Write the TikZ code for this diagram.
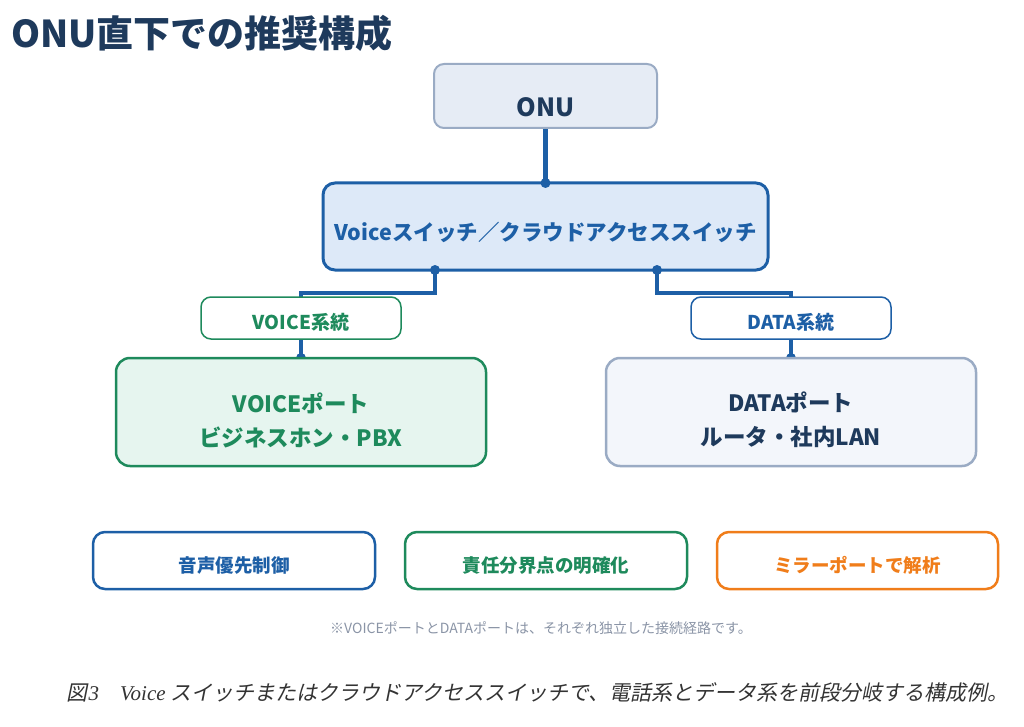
\documentclass[tikz,border=0pt]{standalone}
\usepackage{fontspec}
\setmainfont{Noto Sans CJK JP}
\newfontfamily\capfont{Noto Sans CJK JP}[FakeSlant=0.2]
\newfontfamily\capserif{Liberation Serif}
\usetikzlibrary{calc}
\definecolor{navy}{HTML}{1E3A5C}
\definecolor{cblue}{HTML}{1D5FA6}
\definecolor{cgreen}{HTML}{1E8A5C}
\definecolor{corange}{HTML}{F07D1A}
\definecolor{cgrayb}{HTML}{9AABC4}
\definecolor{onufill}{HTML}{E6ECF5}
\definecolor{swfill}{HTML}{DDE9F8}
\definecolor{vfill}{HTML}{E6F5EF}
\definecolor{dfill}{HTML}{F3F6FB}
\definecolor{notegray}{HTML}{8A94A6}
\definecolor{capgray}{HTML}{333333}
\pgfdeclarelayer{background}
\pgfsetlayers{background,main}
\tikzset{
  boxbase/.style={rectangle, inner sep=0pt, outer sep=0pt},
  txt/.style={inner sep=0pt, font=\bfseries, align=center},
  conn/.style={draw=cblue, line width=4.5pt},
  jdot/.style={fill=cblue},
}
\begin{document}
\begin{tikzpicture}[x=1pt,y=1pt]
\useasboundingbox (0,0) rectangle (1024,-727);
% title
\node[txt, anchor=base west, text=navy, font=\bfseries\fontsize{37}{40}\selectfont] (title) at (11,-48) {ONU直下での推奨構成};
% ONU
\node[boxbase, draw=cgrayb, fill=onufill, line width=2pt, rounded corners=10pt, minimum width=223pt, minimum height=64pt] (onu) at (545.5,-96) {};
\node[txt, text=navy, font=\bfseries\fontsize{25}{28}\selectfont] (onut) at ([yshift=-11.5pt]onu.center) {ONU};
% switch
\node[boxbase, draw=cblue, fill=swfill, line width=3pt, rounded corners=12pt, minimum width=445pt, minimum height=87pt] (sw) at (545.5,-226.5) {};
\node[txt, text=cblue, font=\bfseries\fontsize{21.5}{24}\selectfont] (swt) at ([yshift=-5.5pt]sw.center) {Voiceスイッチ／クラウドアクセススイッチ};
% label boxes
\node[boxbase, draw=cgreen, fill=white, line width=1.5pt, rounded corners=10pt, minimum width=200pt, minimum height=42pt] (vl) at (301,-318) {};
\node[txt, text=cgreen, font=\bfseries\fontsize{19}{22}\selectfont] (vlt) at ([yshift=-4.5pt]vl.center) {VOICE系統};
\node[boxbase, draw=cblue, fill=white, line width=1.5pt, rounded corners=10pt, minimum width=200pt, minimum height=42pt] (dl) at (791,-318) {};
\node[txt, text=cblue, font=\bfseries\fontsize{19}{22}\selectfont] (dlt) at ([yshift=-4.5pt]dl.center) {DATA系統};
% port boxes
\node[boxbase, draw=cgreen, fill=vfill, line width=2.5pt, rounded corners=14pt, minimum width=370pt, minimum height=108pt] (vp) at (301,-412) {};
\node[txt, text=cgreen, font=\bfseries\fontsize{22.5}{34}\selectfont] (vpt) at ([yshift=-8pt]vp.center) {VOICEポート\\ビジネスホン・PBX};
\node[boxbase, draw=cgrayb, fill=dfill, line width=2.5pt, rounded corners=14pt, minimum width=370pt, minimum height=108pt] (dp) at (791,-412) {};
\node[txt, text=navy, font=\bfseries\fontsize{22.5}{34}\selectfont] (dpt) at ([yshift=-8pt]dp.center) {DATAポート\\ルータ・社内LAN};
% bottom boxes
\node[boxbase, draw=cblue, fill=white, line width=2.5pt, rounded corners=12pt, minimum width=282pt, minimum height=57pt] (b1) at (234,-560.5) {};
\node[txt, text=cblue, font=\bfseries\fontsize{18.5}{21}\selectfont] (b1t) at ([yshift=-5pt]b1.center) {音声優先制御};
\node[boxbase, draw=cgreen, fill=white, line width=2.5pt, rounded corners=12pt, minimum width=282pt, minimum height=57pt] (b2) at (546,-560.5) {};
\node[txt, text=cgreen, font=\bfseries\fontsize{18.5}{21}\selectfont] (b2t) at ([yshift=-5pt]b2.center) {責任分界点の明確化};
\node[boxbase, draw=corange, fill=white, line width=2.5pt, rounded corners=12pt, minimum width=281pt, minimum height=57pt] (b3) at (857.5,-560.5) {};
\node[txt, text=corange, font=\bfseries\fontsize{18.5}{21}\selectfont] (b3t) at ([yshift=-5pt]b3.center) {ミラーポートで解析};
% note
\node[inner sep=0pt, text=notegray, font=\fontsize{14}{16}\selectfont] (note) at (541,-628) {※VOICEポートとDATAポートは、それぞれ独立した接続経路です。};
% caption
\node[inner sep=0pt, anchor=base west, text=capgray, font=\capfont\fontsize{21}{24}\selectfont] (cap) at (66,-700) {図\kern1.5pt{\capserif\itshape 3}\quad{\capserif\itshape Voice} スイッチまたはクラウドアクセススイッチで、電話系とデータ系を前段分岐する構成例。};
% connectors
\begin{pgfonlayer}{background}
\draw[conn] (onu.south) -- (sw.north);
\draw[conn] ([xshift=-110.5pt]sw.south) |- ([yshift=4pt]vl.north) -- (vp.north);
\draw[conn] ([xshift=111.5pt]sw.south) |- ([yshift=4pt]dl.north) -- (dp.north);
\fill[jdot] (vp.north) circle (5pt);
\fill[jdot] (dp.north) circle (5pt);
\end{pgfonlayer}
\fill[jdot] (sw.north) circle (5pt);
\fill[jdot] ([xshift=-110.5pt]sw.south) circle (5pt);
\fill[jdot] ([xshift=111.5pt]sw.south) circle (5pt);
\end{tikzpicture}
\end{document}
